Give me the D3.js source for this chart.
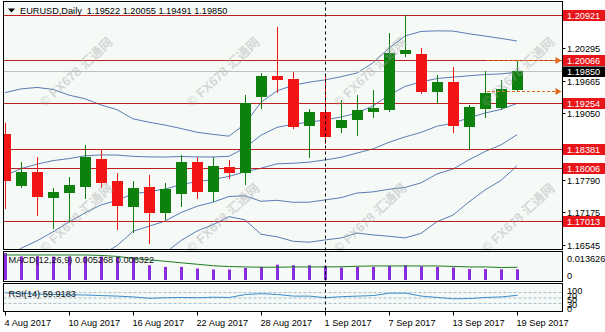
<!DOCTYPE html>
<html><head><meta charset="utf-8">
<script src="https://cdn.jsdelivr.net/npm/d3@7"></script>
<style>
html,body{margin:0;padding:0;background:#fff;overflow:hidden;}
svg{display:block;}
text{font-family:"Liberation Sans",Arial,sans-serif;}
</style></head><body>
<svg id="c" width="605" height="332"></svg>
<script>
// ---------------- data ----------------
const dates = ["2017-08-04","2017-08-07","2017-08-08","2017-08-09","2017-08-10","2017-08-11",
  "2017-08-14","2017-08-15","2017-08-16","2017-08-17","2017-08-18",
  "2017-08-21","2017-08-22","2017-08-23","2017-08-24","2017-08-25",
  "2017-08-28","2017-08-29","2017-08-30","2017-08-31","2017-09-01",
  "2017-09-04","2017-09-05","2017-09-06","2017-09-07","2017-09-08",
  "2017-09-11","2017-09-12","2017-09-13","2017-09-14","2017-09-15",
  "2017-09-18","2017-09-19"];
const open  = [1.18660,1.17692,1.17944,1.17469,1.17553,1.17678,1.18185,1.17767,1.17298,1.17648,1.17184,
  1.17546,1.18128,1.17583,1.18028,1.17944,1.19388,1.19762,1.19705,1.18830,1.19084,
  1.18799,1.18940,1.19103,1.19130,1.20205,1.20174,1.19483,1.19654,1.18812,1.19149,1.19179,1.19522];
const high  = [1.18869,1.18134,1.18229,1.17630,1.17838,1.18451,1.18356,1.17925,1.17768,1.17882,1.17735,
  1.18261,1.18229,1.18229,1.18167,1.19401,1.19825,1.20699,1.19844,1.19130,1.19800,
  1.19300,1.19401,1.19500,1.20580,1.20921,1.20288,1.19781,1.19939,1.19211,1.19863,1.19686,1.20055];
const low   = [1.17255,1.17659,1.17122,1.16869,1.17013,1.17439,1.17659,1.16850,1.16804,1.16595,1.17040,
  1.17293,1.17439,1.17388,1.17819,1.17711,1.19149,1.19464,1.18769,1.18218,1.18490,
  1.18704,1.18641,1.18990,1.19100,1.20142,1.19445,1.19255,1.18704,1.18381,1.18989,1.19130,1.19491];
const close = [1.17786,1.17944,1.17483,1.17564,1.17690,1.18229,1.17754,1.17312,1.17629,1.17184,1.17616,
  1.18128,1.17583,1.18052,1.17944,1.19240,1.19762,1.19700,1.18812,1.19084,1.18628,
  1.18926,1.19117,1.19160,1.20193,1.20256,1.19483,1.19642,1.18832,1.19179,1.19434,1.19510,1.19850];

const bbUpper2 = [1.19446,1.19517,1.19545,1.19508,1.19399,1.19330,1.19213,1.19122,1.18948,1.18885,1.18831,
  1.18765,1.18694,1.18653,1.18619,1.18854,1.19264,1.19480,1.19587,1.19645,1.19688,
  1.19749,1.19819,1.20012,1.20290,1.20523,1.20609,1.20620,1.20616,1.20564,1.20521,1.20476,1.20427];
const bbUpper1 = [1.17869,1.18003,1.18088,1.18155,1.18193,1.18247,1.18263,1.18261,1.18236,1.18226,1.18223,
  1.18233,1.18225,1.18224,1.18237,1.18398,1.18637,1.18787,1.18846,1.18885,1.18928,
  1.18983,1.19059,1.19195,1.19397,1.19564,1.19650,1.19714,1.19742,1.19766,1.19790,1.19802,1.19834];
const bbMiddle = [1.16292,1.16489,1.16631,1.16802,1.16987,1.17164,1.17313,1.17400,1.17524,1.17567,1.17615,
  1.17701,1.17756,1.17795,1.17855,1.17942,1.18010,1.18094,1.18105,1.18125,1.18168,
  1.18217,1.18299,1.18378,1.18504,1.18605,1.18691,1.18808,1.18868,1.18968,1.19059,1.19128,1.19241];
const bbLower1 = [1.14715,1.14975,1.15174,1.15449,1.15781,1.16081,1.16363,1.16539,1.16812,1.16908,1.17007,
  1.17169,1.17287,1.17366,1.17473,1.17486,1.17383,1.17401,1.17364,1.17365,1.17408,
  1.17451,1.17539,1.17561,1.17611,1.17646,1.17732,1.17902,1.17994,1.18170,1.18328,1.18454,1.18648];
const bbLower2 = [1.13138,1.13461,1.13717,1.14096,1.14575,1.14998,1.15413,1.15678,1.16100,1.16249,1.16399,
  1.16637,1.16818,1.16937,1.17091,1.17030,1.16756,1.16708,1.16623,1.16605,1.16648,
  1.16685,1.16779,1.16744,1.16718,1.16687,1.16773,1.16996,1.17120,1.17372,1.17597,1.17780,1.18055];

const macdHist = [0.01330,0.01170,0.01165,0.01160,0.01160,0.01165,0.01160,0.01150,0.01130,0.00730,0.00650,
  0.00650,0.00570,0.00520,0.00520,0.00600,0.00650,0.00760,0.00730,0.00730,0.00700,
  0.00620,0.00650,0.00650,0.00700,0.00730,0.00680,0.00650,0.00620,0.00540,0.00540,0.00530,0.005268];
const macdSignal = [0.01241,0.01241,0.01241,0.01241,0.01241,0.01240,0.01217,0.01168,0.01071,0.00998,0.00925,
  0.00852,0.00779,0.00706,0.00667,0.00647,0.00633,0.00633,0.00647,0.00647,0.00647,
  0.00657,0.00681,0.00696,0.00696,0.00696,0.00696,0.00696,0.00672,0.00647,0.00647,0.00618,0.006322];
const rsiValues = [69,67,64,63,62,61,59,57,54,49,51,52,51,53,52,63,66,63,57,57,51,
  55,57,59,68,68,57,52,47,48,52,54,59.9183];

const levelLines = [1.20921,1.20066,1.19254,1.18381,1.18006,1.17013];
const levelLabels = ["1.20921","1.20066","1.19254","1.18381","1.18006","1.17013"];
const lastPrice = 1.19850, lastPriceLabel = "1.19850";
const arrowLevels = [1.20066,1.19483];
const arrowStartDate = "2017-09-15";
const priceTicks = [1.20295,1.19665,1.19050,1.17790,1.17175,1.16545];
const priceTickLabels = ["1.20295","1.19665","1.19050","1.17790","1.17175","1.16545"];
const dateTicks = ["2017-08-04","2017-08-10","2017-08-16","2017-08-22","2017-08-28","2017-09-01","2017-09-07","2017-09-13","2017-09-19"];
const dateTickLabels = ["4 Aug 2017","10 Aug 2017","16 Aug 2017","22 Aug 2017","28 Aug 2017","1 Sep 2017","7 Sep 2017","13 Sep 2017","19 Sep 2017"];
const macdMax = 0.013626;
const macdTickLabels = ["0.013626","0"];
const rsiLevels = [70,50,30];
const rsiTickValues = [100,70,50,30,0];
const rsiTickLabels = ["100","70","50","30","0"];
const separatorDate = "2017-09-01";
const titleText = "EURUSD,Daily  1.19522 1.20055 1.19491 1.19850";
const macdTitle = "MACD(12,26,9) 0.005268 0.006322";
const rsiTitle = "RSI(14) 59.9183";
const watermark = "\u00A9 FX678 \u6C47\u901A\u7F51";

// ---------------- layout ----------------
const W = 605, H = 332;
const L = 3.5, R = 562.5;
const main = {top:1.5, bottom:249.5};
const macdP = {top:251.5, bottom:281.5};
const rsiP = {top:283.5, bottom:311.5};
const bg = "#f5faf7";

const svg = d3.select("#c");
svg.append("rect").attr("width",W).attr("height",H).attr("fill","#fff");

const x = d3.scalePoint().domain(dates).range([5,517]);
const y = d3.scaleLinear().domain([1.16457,1.21187]).range([250,1]);
const yM = d3.scaleLinear().domain([0,macdMax]).range([280,252.5]);
const yR = d3.scaleLinear().domain([0,100]).range([311.5,284.5]);

const defs = svg.append("defs");
function clip(id, p){
  defs.append("clipPath").attr("id",id).append("rect")
    .attr("x",L+0.5).attr("y",p.top+0.5).attr("width",R-L-1).attr("height",p.bottom-p.top-1);
}
clip("cm",main); clip("cmacd",macdP); clip("crsi",rsiP);

[main,macdP,rsiP].forEach(p=>{
  svg.append("rect").attr("x",L).attr("y",p.top).attr("width",R-L).attr("height",p.bottom-p.top).attr("fill",bg);
});

// ---------- main panel ----------
const gm = svg.append("g").attr("clip-path","url(#cm)");
const line = d3.line().x((d,i)=>x(dates[i])).y(d=>y(d));
[bbUpper2,bbUpper1,bbMiddle,bbLower1,bbLower2].forEach(arr=>{
  gm.append("path").attr("d",line(arr)).attr("fill","none").attr("stroke","#5a7db3").attr("stroke-width",1);
});
levelLines.forEach(v=>{
  gm.append("line").attr("x1",L).attr("x2",R).attr("y1",Math.round(y(v))+0.5).attr("y2",Math.round(y(v))+0.5)
    .attr("stroke","#c01f1f").attr("stroke-width",1.2);
});
gm.append("line").attr("x1",L).attr("x2",R).attr("y1",Math.round(y(lastPrice))+0.5).attr("y2",Math.round(y(lastPrice))+0.5)
  .attr("stroke","#c0c0c0").attr("stroke-width",1);

const bull = "#0e800e", bear = "#f31515";
const cg = gm.append("g").attr("shape-rendering","crispEdges");
dates.forEach((d,i)=>{
  const cx = x(d), up = close[i] >= open[i], col = up ? bull : bear;
  cg.append("line").attr("x1",cx+0.5).attr("x2",cx+0.5)
    .attr("y1",Math.round(y(high[i]))).attr("y2",Math.round(y(low[i]))+1).attr("stroke",col);
  const t = Math.round(y(Math.max(open[i],close[i]))), b = Math.round(y(Math.min(open[i],close[i])));
  cg.append("rect").attr("x",cx-5).attr("width",11).attr("y",t).attr("height",Math.max(1,b-t+1)).attr("fill",col);
});

// dashed arrows
arrowLevels.forEach(v=>{
  const yy = Math.round(y(v))+0.5, x0 = x(arrowStartDate)+2;
  gm.append("line").attr("x1",x0).attr("x2",R-5).attr("y1",yy).attr("y2",yy)
    .attr("stroke","#e0691f").attr("stroke-width",1.2).attr("stroke-dasharray","3,2");
  gm.append("path").attr("d",`M${R-7},${yy-3.5}L${R-1},${yy}L${R-7},${yy+3.5}Z`).attr("fill","#e0691f");
});

// title
svg.append("path").attr("d","M8,8.5L15,8.5L11.5,12.5Z").attr("fill","#000");
svg.append("text").attr("x",20).attr("y",14.2).attr("font-size",9.2).attr("fill","#000")
  .attr("xml:space","preserve").style("white-space","pre").text(titleText);

// ---------- MACD panel ----------
const gma = svg.append("g").attr("clip-path","url(#cmacd)");
gma.selectAll("rect.h").data(macdHist).join("rect")
  .attr("x",(d,i)=>x(dates[i])-1).attr("width",3)
  .attr("y",d=>yM(d)).attr("height",d=>yM(0)-yM(d)).attr("fill","#8a2be2");
gma.append("path").attr("d",d3.line().x((d,i)=>x(dates[i])+0.5).y(d=>yM(d))(macdSignal))
  .attr("fill","none").attr("stroke","#1d7a1d").attr("stroke-width",1);
svg.append("text").attr("x",8.5).attr("y",262.5).attr("font-size",9.2).attr("fill","#111").text(macdTitle);

// ---------- RSI panel ----------
const gr = svg.append("g").attr("clip-path","url(#crsi)");
rsiLevels.forEach(v=>{
  gr.append("line").attr("x1",L).attr("x2",R).attr("y1",yR(v)).attr("y2",yR(v))
    .attr("stroke","#a9bacb").attr("stroke-dasharray","3,2");
});
gr.append("path").attr("d",d3.line().x((d,i)=>x(dates[i])+0.5).y(d=>yR(d))(rsiValues))
  .attr("fill","none").attr("stroke","#3b8ccc").attr("stroke-width",1);
svg.append("text").attr("x",8.5).attr("y",297).attr("font-size",9.2).attr("fill","#111").text(rsiTitle);

// ---------- separator ----------
svg.append("line").attr("x1",x(separatorDate)+0.5).attr("x2",x(separatorDate)+0.5)
  .attr("y1",main.top).attr("y2",rsiP.bottom+1).attr("stroke","#000").attr("stroke-dasharray","3,3");

// ---------- watermark ----------
const wm = svg.append("g").attr("pointer-events","none");
[[76,72],[223,72],[370,72],[518,72],[76,218],[223,218],[370,218],[518,218]].forEach(([cx,cy])=>{
  wm.append("text").attr("transform",`translate(${cx},${cy}) rotate(-43)`)
    .attr("text-anchor","middle").attr("dy","0.35em")
    .attr("font-size",13).attr("font-weight","bold")
    .style("font-family","'Liberation Sans','Noto Sans CJK SC',sans-serif")
    .attr("fill","#a8a8a8").attr("fill-opacity",0.42).text(watermark);
});

// ---------- borders ----------
[main,macdP,rsiP].forEach(p=>{
  svg.append("rect").attr("x",L).attr("y",p.top).attr("width",R-L).attr("height",p.bottom-p.top)
    .attr("fill","none").attr("stroke","#000").attr("stroke-width",1);
});

// ---------- right price axis ----------
const ax = svg.append("g").attr("font-size",9.2).attr("fill","#000");
priceTicks.forEach((v,i)=>{
  const yy = Math.round(y(v))+0.5;
  ax.append("line").attr("x1",R).attr("x2",R+3).attr("y1",yy).attr("y2",yy).attr("stroke","#000");
  ax.append("text").attr("x",567).attr("y",yy+3.3).text(priceTickLabels[i]);
});
levelLines.forEach((v,i)=>{
  const yy = Math.round(y(v))+0.5;
  ax.append("rect").attr("x",563).attr("y",yy-5.5).attr("width",42).attr("height",11).attr("fill","#e8161b");
  ax.append("text").attr("x",567).attr("y",yy+3.3).attr("fill","#fff").text(levelLabels[i]);
});
{
  const yy = Math.round(y(lastPrice))+0.5;
  ax.append("rect").attr("x",563).attr("y",yy-5).attr("width",42).attr("height",10.5).attr("fill","#000");
  ax.append("text").attr("x",567).attr("y",yy+3.3).attr("fill","#fff").text(lastPriceLabel);
}
// MACD scale
ax.append("text").attr("x",567).attr("y",262.3).text(macdTickLabels[0]);
ax.append("text").attr("x",567).attr("y",278.8).text(macdTickLabels[1]);
// RSI scale (labels crowd together as in the original)
const rsiLabelY = [291, 295.5, 300, 304.5, 308.5];
rsiTickValues.forEach((v,i)=>{
  ax.append("text").attr("x",567).attr("y",rsiLabelY[i]+3).text(rsiTickLabels[i]);
});

// ---------- date axis ----------
const dx = svg.append("g").attr("font-size",9.2).attr("fill","#000");
dateTicks.forEach((d,i)=>{
  const xx = x(d)+0.5;
  dx.append("line").attr("x1",xx).attr("x2",xx).attr("y1",rsiP.bottom).attr("y2",rsiP.bottom+4).attr("stroke","#000");
  dx.append("text").attr("x",x(d)-0.5).attr("y",325.5).text(dateTickLabels[i]);
});
</script>
</body></html>
